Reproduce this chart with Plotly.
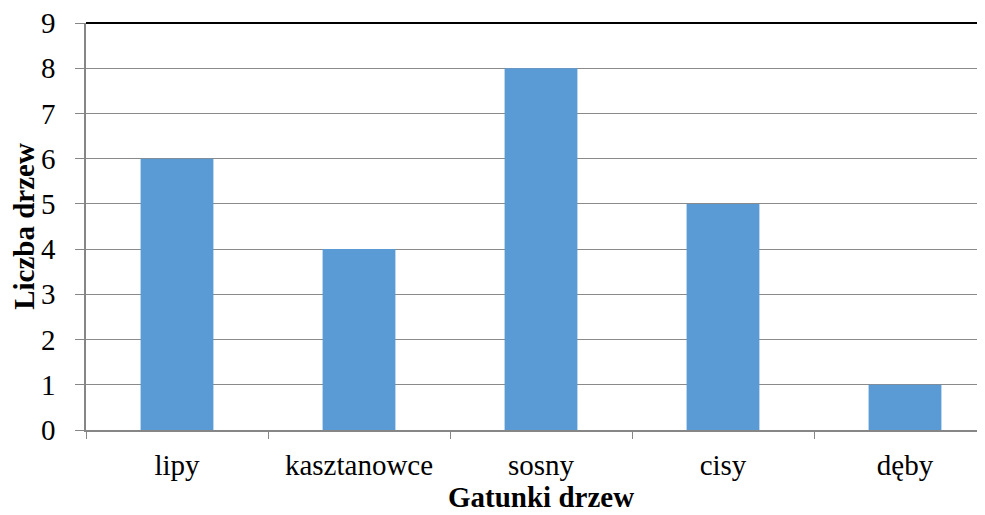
import plotly.graph_objects as go

categories = ["lipy", "kasztanowce", "sosny", "cisy", "dęby"]
values = [6, 4, 8, 5, 1]
y_ticks = [0, 1, 2, 3, 4, 5, 6, 7, 8, 9]

FONT = "Liberation Serif"

fig = go.Figure(go.Bar(x=categories, y=values, marker_color="#5B9BD5",
                       marker_line_width=0, width=0.4))

fig.update_layout(
    width=977, height=507,
    margin=dict(l=78, r=0, t=15, b=85),
    paper_bgcolor="white", plot_bgcolor="white",
    font=dict(family=FONT, size=29, color="black"),
    showlegend=False,
    xaxis=dict(
        range=[-0.5, 4.5 - 11 / 182], automargin=False,
        showline=True, linecolor="#868686", linewidth=1.5,
        ticks="outside", ticklen=7, tickcolor="#868686", tickwidth=1,
        tickson="boundaries", showgrid=False,
        ticklabelstandoff=8,
    ),
    yaxis=dict(
        range=[0, 9], tickvals=y_ticks, automargin=False,
        showline=True, linecolor="#868686", linewidth=1.5,
        ticks="outside", ticklen=9, tickcolor="#868686", tickwidth=1,
        showgrid=True, gridcolor="#8a8a8a", gridwidth=1,
        zeroline=False, ticklabelstandoff=14, ticklabeloverflow="allow",
        title=dict(text="<b>Liczba drzew</b>", font=dict(size=29), standoff=14),
    ),
)

fig.add_annotation(text="<b>Gatunki drzew</b>", xref="x", x=2, yref="paper", y=0,
                   yanchor="top", yshift=-50, showarrow=False, borderpad=0,
                   font=dict(family=FONT, size=29, color="black"))

fig.add_shape(type="line", xref="paper", yref="paper", x0=0, x1=1, y0=1, y1=1,
              line=dict(color="black", width=2))

fig.write_html("out.html")
